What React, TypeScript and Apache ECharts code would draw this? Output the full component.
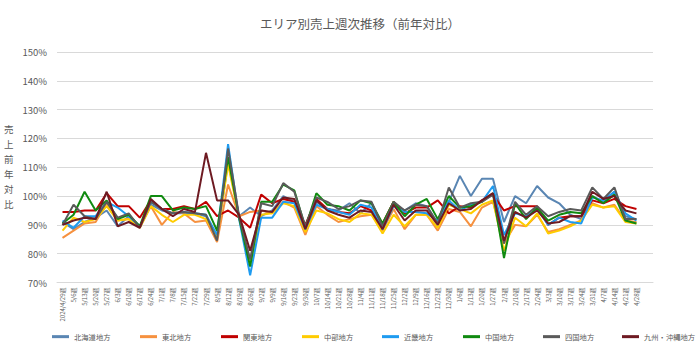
import React, { useEffect, useRef } from "react";
import * as echarts from "echarts";

const weeks = [
  "2024/4/29週", "5/6週", "5/13週", "5/20週", "5/27週", "6/3週", "6/10週", "6/17週", "6/24週",
  "7/1週", "7/8週", "7/15週", "7/22週", "7/29週", "8/5週", "8/12週", "8/19週", "8/26週",
  "9/2週", "9/9週", "9/16週", "9/23週", "9/30週", "10/7週", "10/14週", "10/21週", "10/28週",
  "11/4週", "11/11週", "11/18週", "11/25週", "12/2週", "12/9週", "12/16週", "12/23週", "12/30週",
  "1/6週", "1/13週", "1/20週", "1/27週", "2/3週", "2/10週", "2/17週", "2/24週", "3/3週",
  "3/10週", "3/17週", "3/24週", "3/31週", "4/7週", "4/14週", "4/21週", "4/28週", ""
];

const hokkaido = [91, 88.5, 91, 92.5, 95, 89.5, 93, 89.5, 97, 95, 94, 94, 94, 93, 85.5, 112, 93, 96, 93, 95, 100, 98, 88, 98, 95.5, 95, 97.5, 94, 97.5, 89, 97, 95, 97.5, 96.5, 90.5, 98, 107, 100, 106, 106, 91, 100, 97.5, 103.5, 99.5, 97.5, 93.5, 92, 100, 98, 101.5, 93, 92];
const tohoku = [85.5, 88, 90.5, 91, 97.5, 91.5, 92, 89, 96.5, 90, 94.5, 94, 91, 91.5, 84, 104, 93, 94.5, 95, 94, 98, 96, 86.5, 96.5, 93.5, 91, 92, 93, 93.5, 88, 95.5, 88.5, 93.5, 93.5, 88, 95.5, 94.5, 89.5, 96, 98, 83.5, 90, 89.5, 93.5, 87.5, 88.5, 90, 91.5, 97.5, 96, 97, 91.5, 91];
const kanto = [94.5, 94.5, 95, 95, 101, 96.5, 96.5, 92.5, 98.5, 95.5, 95.5, 96.5, 95.5, 98, 93, 95, 92.5, 89, 100.5, 97.5, 99, 98, 90, 99, 95.5, 94.5, 94, 96.5, 95, 90.5, 98, 94, 96, 96, 98.5, 94, 96.5, 96, 98.5, 100.5, 95, 96.5, 96.5, 96.5, 90, 92.5, 93, 93, 98.5, 97.5, 99, 96.5, 95.5];
const chubu = [88, 92.5, 91, 92, 96.5, 91.5, 92, 89, 96.5, 93.5, 91, 93.5, 93.5, 92, 86, 111, 92.5, 76.5, 93.5, 94, 97.5, 96.5, 87.5, 95, 94, 92, 91, 94, 93.5, 87, 93.5, 89.5, 93.5, 93.5, 89, 97, 95.5, 94, 97, 98.5, 81, 92.5, 89.5, 94, 87, 88, 89.5, 91.5, 97, 96, 96.5, 91, 90.5];
const kinki = [91.5, 89, 93, 93, 98, 96, 93, 89.5, 98, 95.5, 94, 94.5, 94, 93.5, 86.5, 118, 92, 72.5, 92.5, 92.5, 98, 97.5, 88.5, 97, 95.5, 94.5, 93.5, 97, 96, 88.5, 96.5, 94.5, 94.5, 94, 91.5, 98.5, 95, 97, 98, 103.5, 86.5, 94, 93, 95.5, 90, 92.5, 91, 90.5, 99.5, 98.5, 101.5, 94, 91.5];
const chugoku = [90.5, 93.5, 101.5, 95, 98.5, 92, 93.5, 89.5, 100, 100, 95, 96, 95.5, 96.5, 88, 113.5, 92.5, 75.5, 98, 98, 104, 102, 89, 101, 97, 96.5, 95, 98.5, 97.5, 90.5, 98, 93, 97, 99, 92, 100, 96, 96.5, 98, 101, 78.5, 97.5, 92, 96, 91.5, 93.5, 94.5, 94, 100, 97.5, 100.5, 91.5, 90.5];
const shikoku = [90, 97, 93, 92, 98, 92.5, 94, 89, 98, 95.5, 94, 94.5, 94, 93.5, 84.5, 116.5, 93, 78, 97.5, 96.5, 104.5, 101.5, 89.5, 99.5, 98, 95.5, 96.5, 98.5, 98, 89.5, 98, 95, 97, 96.5, 90.5, 103, 96, 97.5, 98, 100.5, 83.5, 98, 93.5, 96.5, 93, 94.5, 95.5, 95, 103, 99, 103, 92, 92];
const kyushu = [90, 91.5, 92.5, 92, 101.5, 89.5, 91, 89, 99, 95.5, 93, 95.5, 94.5, 115, 98.5, 98.5, 93.5, 81, 95, 94.5, 99.5, 99, 88.5, 98.5, 95, 93.5, 92.5, 95, 94.5, 88.5, 97, 91.5, 95, 95, 90, 97.5, 95, 95.5, 98.5, 101, 84.5, 94.5, 92.5, 95, 90.5, 91, 93, 93, 101.5, 99, 100, 95, 94];

const seriesNames = ["北海道地方", "東北地方", "関東地方", "中部地方", "近畿地方", "中国地方", "四国地方", "九州・沖縄地方"];
const seriesData = [hokkaido, tohoku, kanto, chubu, kinki, chugoku, shikoku, kyushu];
const colors = ["#5a86b3", "#f6913f", "#c00000", "#ffcc00", "#1e9bf0", "#108a10", "#5a5a5a", "#6e1a22"];
const legendLefts = [52, 140, 221, 302, 382, 463, 543, 622];

const FONT = "'Noto Sans CJK JP', 'Noto Sans', sans-serif";

export default function App() {
  const ref = useRef<HTMLDivElement>(null);
  useEffect(() => {
    if (!ref.current) return;
    const chart = echarts.init(ref.current, undefined, { renderer: "svg" });
    chart.setOption({
      animation: false,
      backgroundColor: "#ffffff",
      textStyle: { fontFamily: FONT },
      title: {
        text: "エリア別売上週次推移（前年対比）",
        left: 355,
        textAlign: "center",
        top: 12,
        textStyle: { fontSize: 12.5, fontWeight: "normal", color: "#595959", fontFamily: FONT },
      },
      grid: { left: 57, right: 47, top: 52, bottom: 68.5, containLabel: false },
      legend: seriesNames.map((n, i) => ({
        data: [n],
        left: legendLefts[i],
        top: 333,
        padding: 0,
        icon: "rect",
        itemWidth: 17,
        itemHeight: 3,
        itemGap: 3,
        textStyle: { fontSize: 7.3, color: "#595959", fontFamily: FONT },
      })),
      xAxis: {
        type: "category",
        data: weeks,
        boundaryGap: true,
        axisLine: { lineStyle: { color: "#d9d9d9", width: 1 } },
        axisTick: { show: false },
        axisLabel: { interval: 0, rotate: 90, fontSize: 6, color: "#595959", margin: 5, fontFamily: FONT },
      },
      yAxis: {
        type: "value",
        min: 70,
        max: 150,
        interval: 10,
        axisLine: { show: false },
        axisTick: { show: false },
        splitLine: { lineStyle: { color: "#d9d9d9", width: 1 } },
        axisLabel: { formatter: "{value}%", fontSize: 9.5, color: "#595959", margin: 10, fontFamily: FONT },
      },
      graphic: [
        {
          type: "text",
          left: 4,
          top: 121,
          style: {
            text: "売\n上\n前\n年\n対\n比",
            fontSize: 9.5,
            lineHeight: 15,
            fill: "#595959",
            fontFamily: FONT,
          },
        },
      ],
      series: seriesNames.map((n, i) => ({
        name: n,
        type: "line",
        data: seriesData[i],
        showSymbol: false,
        symbol: "none",
        lineStyle: { width: 2, color: colors[i] },
        itemStyle: { color: colors[i] },
      })),
    });
    return () => chart.dispose();
  }, []);
  return (
    <div
      ref={ref}
      style={{ position: "fixed", left: 0, top: 0, width: 700, height: 351 }}
    />
  );
}
